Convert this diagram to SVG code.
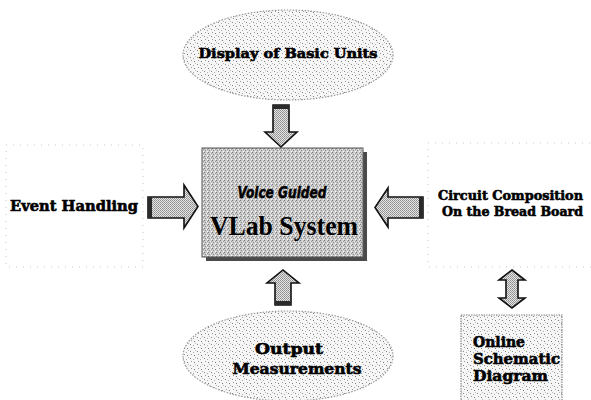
<svg xmlns="http://www.w3.org/2000/svg" width="591" height="400" viewBox="0 0 591 400">
<defs>
  <pattern id="light" width="7" height="7" patternUnits="userSpaceOnUse">
    <rect width="7" height="7" fill="#f6f6f6"/>
    <rect x="1" y="1" width="1" height="1" fill="#888"/>
    <rect x="4" y="2" width="1" height="1" fill="#aaa"/>
    <rect x="2" y="4" width="1" height="1" fill="#999"/>
    <rect x="5" y="5" width="1" height="1" fill="#777"/>
    <rect x="6" y="0" width="1" height="1" fill="#bbb"/>
  </pattern>
  <pattern id="mid" width="4" height="4" patternUnits="userSpaceOnUse">
    <rect width="4" height="4" fill="#cacaca"/>
    <rect x="0" y="0" width="1" height="1" fill="#7a7a7a"/>
    <rect x="2" y="1" width="1" height="1" fill="#f0f0f0"/>
    <rect x="1" y="2" width="1" height="1" fill="#8e8e8e"/>
    <rect x="3" y="3" width="1" height="1" fill="#ffffff"/>
    <rect x="3" y="1" width="1" height="1" fill="#999"/>
  </pattern>
  <pattern id="arr" width="2" height="2" patternUnits="userSpaceOnUse">
    <rect width="2" height="2" fill="#e6e6e6"/>
    <rect x="0" y="0" width="1" height="1" fill="#8c8c8c"/>
    <rect x="1" y="1" width="1" height="1" fill="#9c9c9c"/>
  </pattern>
</defs>
<style>
  .ell { fill: url(#light); stroke: #9a9a9a; stroke-width: 1.2; stroke-dasharray: 1.5 1.5; }
  .frame { fill: none; stroke: #c8c8c8; stroke-width: 1; stroke-dasharray: 1 6; }
  .arrow { fill: url(#arr); stroke: #111; stroke-width: 1.6; stroke-linejoin: miter; }
  .tail { fill: #2a2a2a; }
  .lbl { font-family: "DejaVu Serif", "Liberation Serif", serif; font-weight: bold; fill: #000; stroke: #000; stroke-width: 0.6; }
  .vg { font-family: "DejaVu Sans Condensed", "DejaVu Sans", sans-serif; font-weight: bold; font-style: italic; fill: #000; stroke: #000; stroke-width: 0.5; }
  .vlab { font-family: "Liberation Serif", "Times New Roman", serif; font-weight: bold; fill: #000; }
</style>

<g id="node-display">
  <ellipse class="ell" cx="288" cy="55" rx="105" ry="45"/>
  <text class="lbl" x="288" y="58" font-size="13" text-anchor="middle" textLength="179" lengthAdjust="spacingAndGlyphs">Display of Basic Units</text>
</g>

<g id="node-event">
  <rect class="frame" x="6" y="145" width="137" height="122"/>
  <text class="lbl" x="10" y="211" font-size="15" textLength="128" lengthAdjust="spacingAndGlyphs">Event Handling</text>
</g>

<g id="node-vlab">
  <rect x="206" y="152" width="161" height="109" fill="#4a4a4a"/>
  <rect x="202" y="148" width="161" height="109" fill="url(#mid)" stroke="#555" stroke-width="1"/>
  <text class="vg" x="282" y="198" font-size="16" text-anchor="middle" textLength="89" lengthAdjust="spacingAndGlyphs">Voice Guided</text>
  <text class="vlab" x="284" y="235" font-size="27" text-anchor="middle" textLength="148" lengthAdjust="spacingAndGlyphs">VLab  System</text>
</g>

<g id="node-circuit">
  <rect class="frame" x="428" y="143" width="170" height="124"/>
  <text class="lbl" x="438" y="200" font-size="13" textLength="145" lengthAdjust="spacingAndGlyphs">Circuit Composition</text>
  <text class="lbl" x="442" y="216" font-size="13" textLength="141" lengthAdjust="spacingAndGlyphs">On the Bread Board</text>
</g>

<g id="node-output">
  <ellipse class="ell" cx="288" cy="356" rx="105" ry="45"/>
  <text class="lbl" x="289" y="354" font-size="15" text-anchor="middle" textLength="68" lengthAdjust="spacingAndGlyphs">Output</text>
  <text class="lbl" x="297" y="374" font-size="15" text-anchor="middle" textLength="129" lengthAdjust="spacingAndGlyphs">Measurements</text>
</g>

<g id="node-schematic">
  <rect x="461" y="315" width="101" height="90" fill="url(#light)" stroke="#8a8a8a" stroke-width="1.2" stroke-dasharray="1.5 1"/>
  <text class="lbl" x="473" y="347" font-size="15" textLength="52" lengthAdjust="spacingAndGlyphs">Online</text>
  <text class="lbl" x="473" y="364" font-size="15" textLength="87" lengthAdjust="spacingAndGlyphs">Schematic</text>
  <text class="lbl" x="473" y="381" font-size="15" textLength="75" lengthAdjust="spacingAndGlyphs">Diagram</text>
</g>

<g id="connectors">
  <path class="arrow" d="M273,105 V132 H265 L281,147 L297,132 H289 V105 Z"/>
  <rect class="tail" x="273" y="105" width="16" height="4"/>
  <path class="arrow" d="M148,197 H184 V185 L198,206.5 L184,228 V218 H148 Z"/>
  <rect class="tail" x="148" y="197" width="4" height="21"/>
  <path class="arrow" d="M423,197 H388 V188 L375,207.5 L388,227 V218 H423 Z"/>
  <rect class="tail" x="419" y="197" width="4" height="21"/>
  <path class="arrow" d="M275,305 V283 H267 L283,270 L299,283 H291 V305 Z"/>
  <rect class="tail" x="275" y="301" width="16" height="4"/>
  <path class="arrow" d="M512,270 L525,280 H518 V298 H525 L512,308 L499,298 H506 V280 H499 Z"/>
</g>
</svg>
